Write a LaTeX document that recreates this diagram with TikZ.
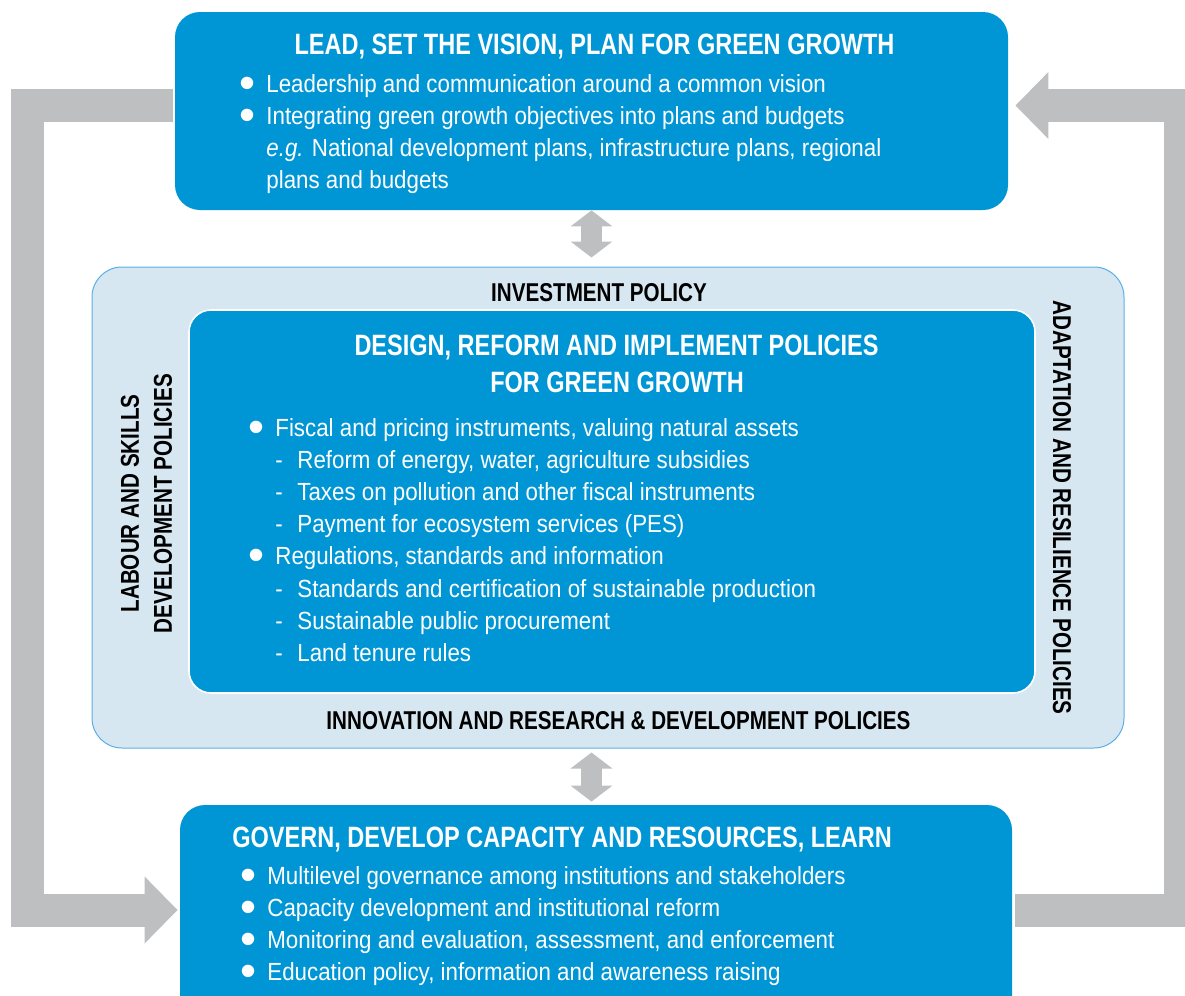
\documentclass[tikz,border=0pt]{standalone}
\usepackage{fontspec}
\setmainfont{Liberation Sans}[FakeStretch=0.9]
\newfontfamily\headfont{Liberation Sans}[FakeStretch=0.8]
\usetikzlibrary{arrows.meta, positioning}

\definecolor{oecdblue}{RGB}{0,150,214}
\definecolor{panelblue}{RGB}{214,231,241}
\definecolor{panelline}{RGB}{90,175,228}
\definecolor{arrowgrey}{RGB}{190,191,193}

\newcommand{\blt}{\makebox[13.5pt][l]{\smash{\raisebox{-3.1pt}{\scalebox{2.05}[1.84]{\textbullet}}}}}
\newcommand{\dsh}{\makebox[11pt][l]{-}}

\begin{document}
\begin{tikzpicture}[x=0.5pt, y=-0.5pt,
  bluebox/.style={fill=oecdblue, rounded corners=12.5pt, inner sep=0pt},
  panelbox/.style={fill=panelblue, draw=panelline, line width=0.5pt, rounded corners=15pt, inner sep=0pt},
  boxline/.style={text=white, inner sep=0pt, anchor=base west, font=\fontsize{12.4}{15}\selectfont},
  boxtitle/.style={text=white, inner sep=0pt, anchor=base, font=\headfont\bfseries\fontsize{14.7}{17}\selectfont},
  sidelabel/.style={text=black, inner sep=0pt, font=\headfont\bfseries\fontsize{12.9}{15}\selectfont},
  bigarrow/.style={draw=arrowgrey, line width=16.5pt, line join=miter, -{Triangle[length=16.5pt,width=32.5pt]}},
  dblarrow/.style={draw=arrowgrey, line width=10.5pt, {Triangle[length=8pt,width=20.5pt]}-{Triangle[length=8pt,width=20.5pt]}}
]
\useasboundingbox (0,0) rectangle (1185,996);

% Boxes
\node (panel) [panelbox, minimum width=516pt, minimum height=240.5pt] at (608,507.5) {};
\node (design) [bluebox, draw=white, line width=0.8pt, rounded corners=11pt, minimum width=423pt, minimum height=191.5pt] at (612,501.5) {};
\node (lead) [bluebox, minimum width=416.5pt, minimum height=99pt] at (591.5,111) {};
\node (govern) [bluebox, minimum width=416pt, minimum height=117.5pt] at (596,922.5) {};

% Lead box
\node (lead-title) [boxtitle] at (594.5,54) {LEAD, SET THE VISION, PLAN FOR GREEN GROWTH};
\foreach \x/\y/\txt [count=\i] in {
    239/92/{\blt Leadership and communication around a common vision},
    239/124/{\blt Integrating green growth objectives into plans and budgets},
    266/156/{{\itshape e.g.} National development plans, infrastructure plans, regional},
    266/188/{plans and budgets}} {
    \node (lead-\i) [boxline] at (\x,\y) {\txt};
}

% Policy box
\node (design-title1) [boxtitle] at (616.5,355.5) {DESIGN, REFORM AND IMPLEMENT POLICIES};
\node (design-title2) [boxtitle] at (617,392.5) {FOR GREEN GROWTH};
\foreach \x/\y/\txt [count=\i] in {
    248/436/{\blt Fiscal and pricing instruments, valuing natural assets},
    275/468/{\dsh Reform of energy, water, agriculture subsidies},
    275/500/{\dsh Taxes on pollution and other fiscal instruments},
    275/532/{\dsh Payment for ecosystem services (PES)},
    248/564/{\blt Regulations, standards and information},
    275/597/{\dsh Standards and certification of sustainable production},
    275/629/{\dsh Sustainable public procurement},
    275/661/{\dsh Land tenure rules}} {
    \node (design-\i) [boxline] at (\x,\y) {\txt};
}

% Panel labels
\node (invest) [sidelabel] at (599,293) {INVESTMENT POLICY};
\node (innov) [sidelabel] at (618.5,721) {INNOVATION AND RESEARCH \& DEVELOPMENT POLICIES};
\node (labour1) [sidelabel, rotate=90] at (130,503.5) {LABOUR AND SKILLS};
\node (labour2) [sidelabel, rotate=90] at (163,503.5) {DEVELOPMENT POLICIES};
\node (adapt) [sidelabel, rotate=-90] at (1062,507.5) {ADAPTATION AND RESILIENCE POLICIES};

% Govern box
\node (govern-title) [boxtitle, anchor=base west] at (232,847) {GOVERN, DEVELOP CAPACITY AND RESOURCES, LEARN};
\foreach \txt [count=\i] in {
    {Multilevel governance among institutions and stakeholders},
    {Capacity development and institutional reform},
    {Monitoring and evaluation, assessment, and enforcement},
    {Education policy, information and awareness raising}} {
    \node (govern-\i) [boxline] at (240,852+32*\i) {\blt\txt};
}

% Arrows
\draw[dblarrow] (lead.south) -- ([yshift=4.5pt]lead.south |- panel.north);
\draw[dblarrow] ([yshift=-2pt]lead.south |- panel.south) -- ([yshift=1.5pt]lead.south |- govern.north);
\draw[bigarrow] ([xshift=-1pt,yshift=2.75pt]lead.west) -| (27.5,910) -- ([xshift=-1pt,yshift=6.25pt]govern.west);
\draw[bigarrow] ([xshift=1.5pt,yshift=6.25pt]govern.east) -| (1180.5,105.5) -- ([xshift=3.5pt,yshift=2.75pt]lead.east);
\end{tikzpicture}
\end{document}
